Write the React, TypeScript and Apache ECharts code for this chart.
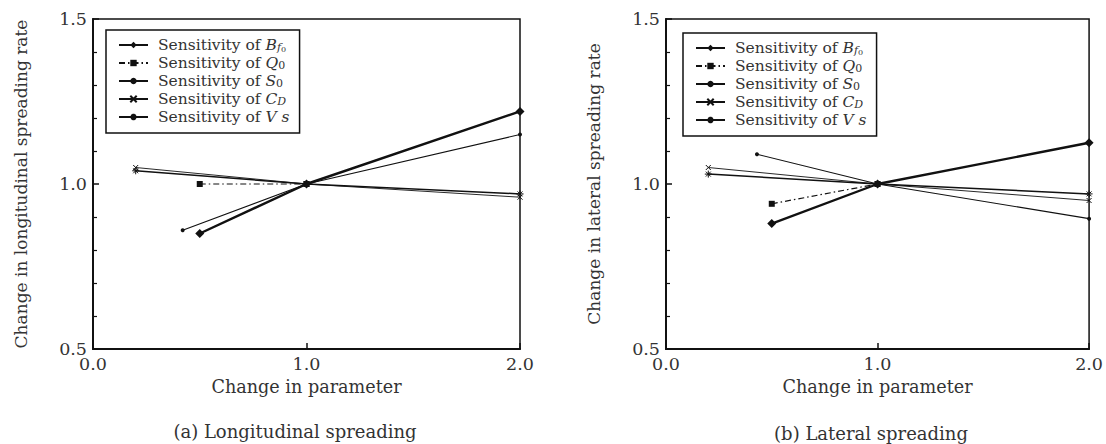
import React, { useEffect, useRef } from "react";
import * as echarts from "echarts";

const seriesNames = ["Bf0", "Q0", "S0", "CD", "Vs"];

// Longitudinal spreading (a)
const longBf0 = [[0.5, 0.85], [1.0, 1.0], [2.0, 1.22]];
const longQ0 = [[0.5, 1.0], [1.0, 1.0]];
const longS0 = [[0.42, 0.86], [1.0, 1.0], [2.0, 1.15]];
const longCD = [[0.2, 1.05], [1.0, 1.0], [2.0, 0.96]];
const longVs = [[0.2, 1.04], [1.0, 1.0], [2.0, 0.97]];

// Lateral spreading (b)
const latBf0 = [[0.5, 0.88], [1.0, 1.0], [2.0, 1.125]];
const latQ0 = [[0.5, 0.94], [1.0, 1.0]];
const latS0 = [[0.43, 1.09], [1.0, 1.0], [2.0, 0.895]];
const latCD = [[0.2, 1.05], [1.0, 1.0], [2.0, 0.95]];
const latVs = [[0.2, 1.03], [1.0, 1.0], [2.0, 0.97]];

const xTicks = [0, 1, 2];
const yTicks = [0.5, 1.0, 1.5];

const FONT = "DejaVu Serif";
const INK = "#111";
const TXT = "#333";

const legendLabels: Record<string, string> = {
  Bf0: "Sensitivity of {m|B}{s|f}{ss|0}",
  Q0: "Sensitivity of {m|Q}{n|0}",
  S0: "Sensitivity of {m|S}{n|0}",
  CD: "Sensitivity of {m|C}{s|D}",
  Vs: "Sensitivity of {m|V s}",
};

const xMark = "path://M0,0L10,10M10,0L0,10";
const asterisk = "path://M5,0L5,10M0,5L10,5M1.5,1.5L8.5,8.5M8.5,1.5L1.5,8.5";

function makeSeries(idx: number, data: number[][][]) {
  const styles = [
    { symbol: "diamond", symbolSize: 9, width: 2.4, type: "solid" as any },
    { symbol: "rect", symbolSize: 6, width: 1.2, type: [6, 3, 1.5, 3] as any },
    { symbol: "circle", symbolSize: 4, width: 1.1, type: "solid" as any },
    { symbol: xMark, symbolSize: 5, width: 0.9, type: "solid" as any },
    { symbol: asterisk, symbolSize: 7, width: 1.5, type: "solid" as any },
  ];
  return seriesNames.map((name, i) => ({
    type: "line",
    name,
    xAxisIndex: idx,
    yAxisIndex: idx,
    data: data[i],
    symbol: styles[i].symbol,
    symbolSize: styles[i].symbolSize,
    showSymbol: true,
    lineStyle: { color: INK, width: styles[i].width, type: styles[i].type },
    itemStyle: { color: INK, borderColor: INK, borderWidth: i >= 3 ? 1 : 0 },
    emphasis: { disabled: true },
    z: 5 - i,
  }));
}

function axisPair(idx: number, yName: string) {
  const x = {
    type: "value",
    gridIndex: idx,
    min: xTicks[0],
    max: xTicks[xTicks.length - 1],
    interval: 1,
    name: "Change in parameter",
    nameLocation: "middle",
    nameGap: 29,
    nameTextStyle: { fontFamily: FONT, fontSize: 17.6, color: TXT },
    axisLine: { show: true, lineStyle: { color: INK, width: 2 } },
    axisTick: { show: true, inside: true, length: 6, lineStyle: { color: INK, width: 1.5 } },
    minorTick: { show: false },
    splitLine: { show: false },
    axisLabel: {
      fontFamily: FONT,
      fontSize: 17.5,
      color: TXT,
      margin: 6,
      formatter: (v: number) => v.toFixed(1),
    },
  };
  const y = {
    type: "value",
    gridIndex: idx,
    min: yTicks[0],
    max: yTicks[yTicks.length - 1],
    interval: 0.5,
    name: yName,
    nameLocation: "middle",
    nameGap: 64,
    nameRotate: 90,
    nameTextStyle: { fontFamily: FONT, fontSize: 17, color: TXT },
    axisLine: { show: true, lineStyle: { color: INK, width: 2 } },
    axisTick: { show: true, inside: true, length: 6, lineStyle: { color: INK, width: 1.5 } },
    minorTick: { show: true, splitNumber: 5, length: 4, lineStyle: { color: INK, width: 1.2 } },
    splitLine: { show: false },
    axisLabel: {
      fontFamily: FONT,
      fontSize: 17.5,
      color: TXT,
      margin: 6,
      formatter: (v: number) => v.toFixed(1),
    },
  };
  return { x, y };
}

function makeLegend(left: number, top: number) {
  return {
    orient: "vertical",
    left,
    top,
    padding: [7, 10, 8, 12],
    itemGap: 2,
    itemWidth: 29,
    itemHeight: 8,
    borderColor: INK,
    borderWidth: 1.5,
    selectedMode: false,
    data: seriesNames,
    formatter: (n: string) => legendLabels[n],
    textStyle: {
      fontFamily: FONT,
      fontSize: 15.5,
      color: TXT,
      lineHeight: 16,
      padding: [0, 0, 0, 5],
      rich: {
        m: { fontFamily: FONT, fontSize: 15.5, fontStyle: "italic", color: TXT, lineHeight: 16 },
        s: { fontFamily: FONT, fontSize: 11, fontStyle: "italic", color: TXT, lineHeight: 9, verticalAlign: "bottom" },
        n: { fontFamily: FONT, fontSize: 11, color: TXT, lineHeight: 9, verticalAlign: "bottom" },
        ss: { fontFamily: FONT, fontSize: 8, color: TXT, lineHeight: 4, verticalAlign: "bottom" },
      },
    },
  };
}

export default function App() {
  const ref = useRef<HTMLDivElement>(null);
  useEffect(() => {
    if (!ref.current) return;
    const chart = echarts.init(ref.current, null, { renderer: "svg" });
    const a = axisPair(0, "Change in longitudinal spreading rate");
    const b = axisPair(1, "Change in lateral spreading rate");
    chart.setOption({
      animation: false,
      backgroundColor: "#fff",
      grid: [
        { left: 93, top: 19, width: 427, height: 330, show: true, borderColor: INK, borderWidth: 1.5, backgroundColor: "transparent" },
        { left: 666, top: 19, width: 424, height: 330, show: true, borderColor: INK, borderWidth: 1.5, backgroundColor: "transparent" },
      ],
      xAxis: [a.x, b.x],
      yAxis: [a.y, b.y],
      legend: [makeLegend(106, 30), makeLegend(683, 33)],
      series: [
        ...makeSeries(0, [longBf0, longQ0, longS0, longCD, longVs]),
        ...makeSeries(1, [latBf0, latQ0, latS0, latCD, latVs]),
      ],
      graphic: [
        {
          type: "text",
          x: 295,
          y: 431,
          style: { text: "(a) Longitudinal spreading", fontFamily: FONT, fontSize: 18, fill: TXT, textAlign: "center", textVerticalAlign: "middle" },
        },
        {
          type: "text",
          x: 871,
          y: 433,
          style: { text: "(b) Lateral spreading", fontFamily: FONT, fontSize: 18, fill: TXT, textAlign: "center", textVerticalAlign: "middle" },
        },
      ],
    });
    return () => chart.dispose();
  }, []);
  return <div ref={ref} style={{ width: 1106, height: 444, position: "absolute", left: 0, top: 0 }} />;
}
